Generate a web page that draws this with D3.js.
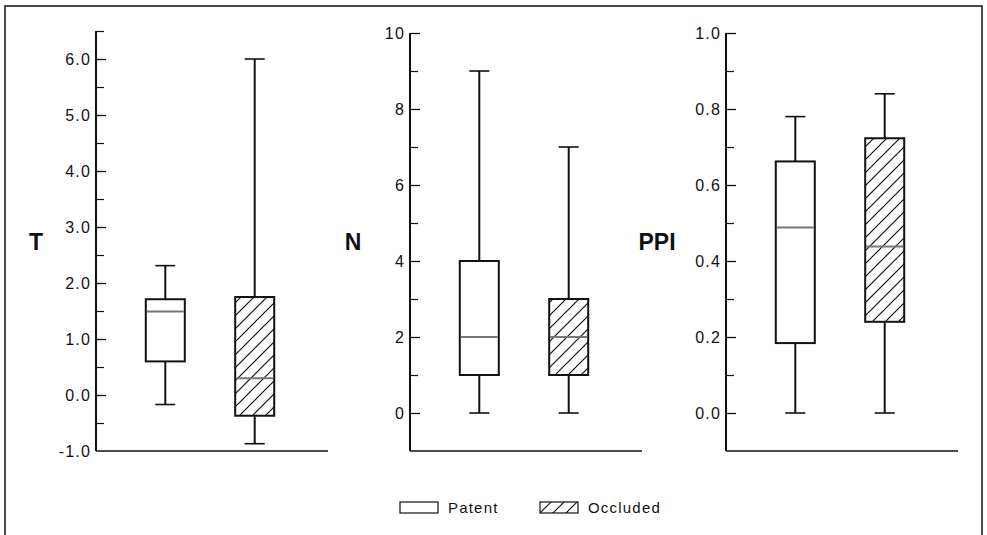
<!DOCTYPE html>
<html>
<head>
<meta charset="utf-8">
<script src="https://cdn.jsdelivr.net/npm/d3@7"></script>
<style>
  html, body { margin: 0; padding: 0; background: #fff; }
  svg { display: block; }
  text { font-family: "Liberation Sans", Arial, Helvetica, sans-serif; fill: #111; }
</style>
</head>
<body>
<svg id="chart" width="987" height="535"></svg>
<script>
// Groups compared in every panel
const groups = ["Patent", "Occluded"];

// Five-number summaries per group: [lower whisker, Q1, median, Q3, upper whisker]
const tValues   = [[-0.17, 0.60, 1.49, 1.71, 2.31], [-0.87, -0.37, 0.30, 1.75, 6.0]];
const nValues   = [[0, 1, 2, 4, 9], [0, 1, 2, 3, 7]];
const ppiValues = [[0, 0.184, 0.488, 0.662, 0.78], [0, 0.24, 0.438, 0.723, 0.84]];

// Axis settings per panel
const tDomain = [-1, 6.5],  tMajor = [-1, 0, 1, 2, 3, 4, 5, 6], tMinor = [-0.5, 0.5, 1.5, 2.5, 3.5, 4.5, 5.5, 6.5];
const nDomain = [-1, 10],   nMajor = [0, 2, 4, 6, 8, 10],       nMinor = [1, 3, 5, 7, 9];
const pDomain = [-0.1, 1.0], pMajor = [0, 0.2, 0.4, 0.6, 0.8, 1.0], pMinor = [0.1, 0.3, 0.5, 0.7, 0.9];

const oneDecimal = d => d.toFixed(1);   // plain hyphen for negatives
const integer = d => String(d);

const panels = [
  { label: "T",   labelX: 36,  axisX: 96,  values: tValues,   domain: tDomain, major: tMajor, minor: tMinor, top: 31, fmt: oneDecimal },
  { label: "N",   labelX: 353, axisX: 410, values: nValues,   domain: nDomain, major: nMajor, minor: nMinor, top: 33, fmt: integer },
  { label: "PPI", labelX: 657, axisX: 726, values: ppiValues, domain: pDomain, major: pMajor, minor: pMinor, top: 33, fmt: oneDecimal }
];

const svg = d3.select("#chart");
const baseY = 451;
const boxW = 39, capW = 20;

// Diagonal hatching for the occluded group
const defs = svg.append("defs");
const hatch = defs.append("pattern")
  .attr("id", "hatch")
  .attr("patternUnits", "userSpaceOnUse")
  .attr("width", 13).attr("height", 13);
hatch.append("rect").attr("width", 13).attr("height", 13).attr("fill", "#fff");
hatch.append("path")
  .attr("d", "M0,13 L13,0 M-4,4 L4,-4 M9,17 L17,9")
  .attr("stroke", "#111").attr("stroke-width", 1.2);

const fills = { Patent: "#fff", Occluded: "url(#hatch)" };

// Outer frame
svg.append("path")
  .attr("d", "M5,535 L5,6 L982,6 L982,535")
  .attr("fill", "none").attr("stroke", "#111").attr("stroke-width", 1.5);

panels.forEach(p => {
  const g = svg.append("g").attr("transform", `translate(${p.axisX},0)`);
  const y = d3.scaleLinear().domain(p.domain).range([baseY, p.top]);
  const x = d3.scalePoint().domain(groups).range([0, 228]).padding(0.775);

  // Vertical axis with inward ticks
  const axis = d3.axisRight(y).tickValues(p.major.filter(v => v > p.domain[0])).tickSize(10).tickFormat("");
  const ag = g.append("g").call(axis);
  ag.select(".domain").remove();
  ag.selectAll(".tick line").attr("stroke", "#111").attr("stroke-width", 1.3);

  const minorAxis = d3.axisRight(y).tickValues(p.minor).tickSize(8).tickFormat("");
  const mg = g.append("g").call(minorAxis);
  mg.select(".domain").remove();
  mg.selectAll(".tick line").attr("stroke", "#111").attr("stroke-width", 1.2);

  g.append("line")
    .attr("x1", 0).attr("x2", 0).attr("y1", y(p.domain[1])).attr("y2", baseY)
    .attr("stroke", "#111").attr("stroke-width", 2);
  g.append("line")
    .attr("x1", 0).attr("x2", 232).attr("y1", baseY).attr("y2", baseY)
    .attr("stroke", "#111").attr("stroke-width", 1.6);

  // Tick labels
  g.selectAll("text.tl").data(p.major).join("text")
    .attr("class", "tl")
    .attr("x", -5).attr("y", d => y(d)).attr("dy", "0.36em")
    .attr("text-anchor", "end")
    .style("font-size", "16px").style("letter-spacing", "1.2px")
    .text(d => p.fmt(d));

  // Panel label
  svg.append("text")
    .attr("x", p.labelX).attr("y", 242).attr("dy", "0.36em")
    .attr("text-anchor", "middle")
    .style("font-size", "23px").style("font-weight", "bold")
    .text(p.label);

  // Box plots
  groups.forEach((grp, i) => {
    const [lo, q1, med, q3, hi] = p.values[i];
    const cx = x(grp);
    const bg = g.append("g");
    bg.append("line").attr("x1", cx).attr("x2", cx).attr("y1", y(q3)).attr("y2", y(hi))
      .attr("stroke", "#111").attr("stroke-width", 2);
    bg.append("line").attr("x1", cx).attr("x2", cx).attr("y1", y(q1)).attr("y2", y(lo))
      .attr("stroke", "#111").attr("stroke-width", 2);
    [lo, hi].forEach(v => {
      bg.append("line").attr("x1", cx - capW / 2).attr("x2", cx + capW / 2)
        .attr("y1", y(v)).attr("y2", y(v))
        .attr("stroke", "#111").attr("stroke-width", 1.6);
    });
    bg.append("rect")
      .attr("x", cx - boxW / 2).attr("width", boxW)
      .attr("y", y(q3)).attr("height", y(q1) - y(q3))
      .attr("fill", fills[grp]).attr("stroke", "#111").attr("stroke-width", 2);
    bg.append("line").attr("x1", cx - boxW / 2 + 1).attr("x2", cx + boxW / 2 - 1)
      .attr("y1", y(med)).attr("y2", y(med))
      .attr("stroke", "#777").attr("stroke-width", 2);
  });
});

// Legend
const legend = svg.append("g");
const legendX = d3.scaleOrdinal().domain(groups).range([400, 540]);
groups.forEach(grp => {
  const lx = legendX(grp);
  legend.append("rect")
    .attr("x", lx).attr("y", 502).attr("width", 38).attr("height", 11)
    .attr("fill", fills[grp]).attr("stroke", "#111").attr("stroke-width", 1.2);
  legend.append("text")
    .attr("x", lx + 48).attr("y", 513)
    .style("font-size", "15px").style("letter-spacing", "1.2px")
    .text(grp);
});
</script>
</body>
</html>
